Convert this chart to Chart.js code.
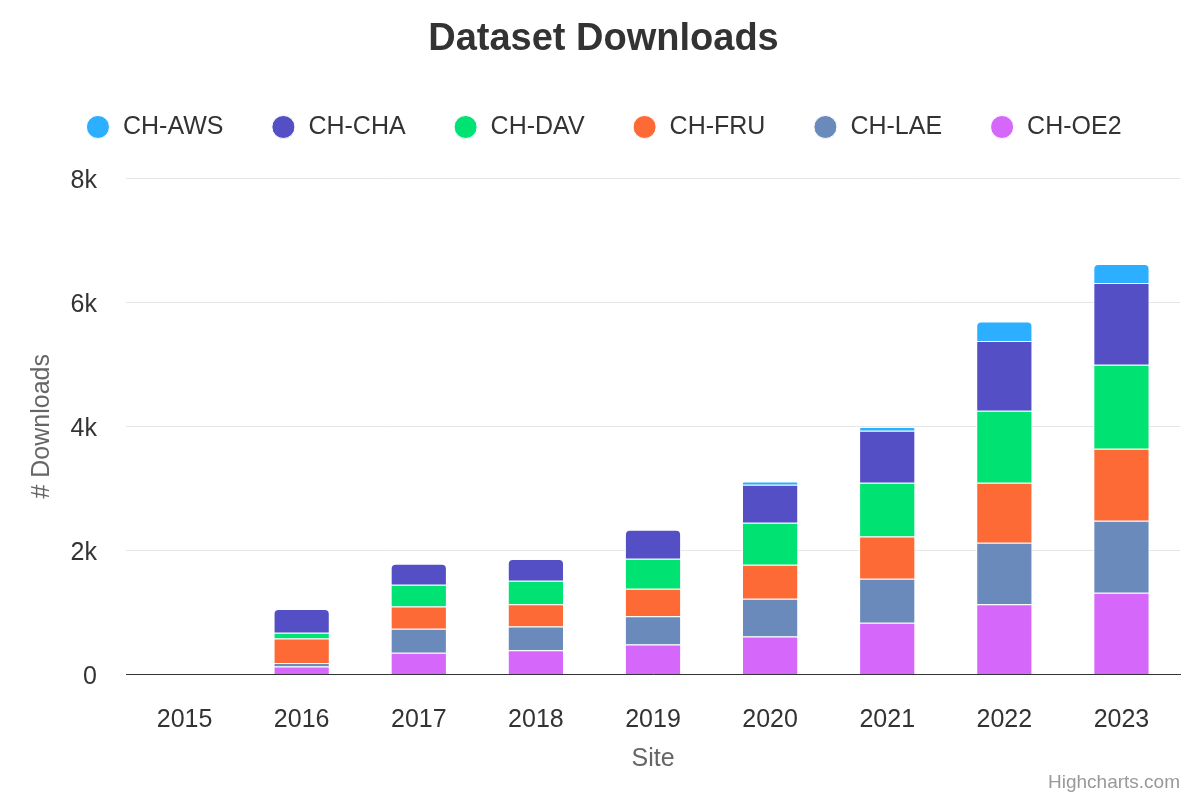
<!DOCTYPE html>
<html>
<head>
<meta charset="utf-8">
<script src="https://cdn.jsdelivr.net/npm/chart.js@4/dist/chart.umd.min.js"></script>
<style>
  html, body { margin: 0; padding: 0; background: #ffffff; }
</style>
</head>
<body>
<canvas id="c" width="1200" height="800"></canvas>
<script>
const years = ['2015', '2016', '2017', '2018', '2019', '2020', '2021', '2022', '2023'];
const chOE2 = [0, 130, 354, 394, 483, 612, 837, 1132, 1320];
const chLAE = [0, 55, 386, 379, 455, 611, 708, 993, 1159];
const chFRU = [0, 395, 359, 362, 446, 548, 681, 966, 1159];
const chDAV = [0, 95, 350, 378, 483, 676, 865, 1158, 1352];
const chCHA = [0, 380, 338, 349, 467, 611, 837, 1127, 1320];
const chAWS = [0, 0, 0, 0, 0, 53, 59, 311, 306];
const yTicks = [0, 2000, 4000, 6000, 8000];

const FONT = '"Liberation Sans", Arial, Helvetica, sans-serif';

// bottom -> top stack order
const series = [
  { label: 'CH-OE2', data: chOE2, color: '#d568fb' },
  { label: 'CH-LAE', data: chLAE, color: '#6b8abc' },
  { label: 'CH-FRU', data: chFRU, color: '#fe6a35' },
  { label: 'CH-DAV', data: chDAV, color: '#00e272' },
  { label: 'CH-CHA', data: chCHA, color: '#544fc5' },
  { label: 'CH-AWS', data: chAWS, color: '#2caffe' }
];

function topIndex(i) {
  let top = -1;
  series.forEach((s, k) => { if (s.data[i] > 0) top = k; });
  return top;
}

const datasets = series.map((s, k) => ({
  label: s.label,
  data: s.data,
  backgroundColor: s.color,
  borderColor: '#ffffff',
  borderWidth: 1,
  borderSkipped: 'start',
  borderRadius: (ctx) => {
    const i = ctx.dataIndex;
    return topIndex(i) === k
      ? { topLeft: 5, topRight: 5, bottomLeft: 0, bottomRight: 0 }
      : { topLeft: 0, topRight: 0, bottomLeft: 0, bottomRight: 0 };
  },
  categoryPercentage: 0.6,
  barPercentage: 0.8,
  pointStyle: 'circle'
}));

const legendHeight = {
  id: 'legendHeight',
  beforeInit(chart) {
    const origFit = chart.legend.fit;
    chart.legend.fit = function () {
      origFit.bind(chart.legend)();
      this.height = 111;
    };
  }
};

new Chart(document.getElementById('c'), {
  type: 'bar',
  data: { labels: years, datasets: datasets },
  plugins: [legendHeight],
  options: {
    responsive: false,
    animation: false,
    layout: { padding: { top: 8, left: 27, right: 20, bottom: 5.6 } },
    plugins: {
      title: {
        display: true,
        text: 'Dataset Downloads',
        color: '#333333',
        font: { family: FONT, size: 38, weight: 'bold' },
        padding: { top: 9.2, bottom: 4.2 }
      },
      subtitle: {
        display: true,
        text: 'Highcharts.com',
        position: 'bottom',
        align: 'end',
        color: '#999999',
        font: { family: FONT, size: 19 },
        padding: { top: 0, bottom: 0 }
      },
      legend: {
        display: true,
        position: 'top',
        reverse: true,
        labels: {
          usePointStyle: true,
          boxWidth: 29,
          boxHeight: 16.3,
          padding: 47.5,
          color: '#333333',
          font: { family: FONT, size: 25 }
        }
      },
      tooltip: { enabled: false }
    },
    scales: {
      x: {
        stacked: true,
        z: 1,
        grid: { display: false, drawTicks: false },
        border: { display: true, color: '#333333', width: 1 },
        ticks: { color: '#333333', font: { family: FONT, size: 25 }, padding: 31, maxRotation: 0 },
        title: { display: true, text: 'Site', color: '#666666', font: { family: FONT, size: 25 }, padding: { top: -22, bottom: -3 } }
      },
      y: {
        stacked: true,
        min: yTicks[0],
        max: yTicks[yTicks.length - 1],
        grid: { color: '#e6e6e6', lineWidth: 1, drawTicks: false },
        border: { display: false },
        ticks: {
          stepSize: yTicks[1] - yTicks[0],
          color: '#333333',
          font: { family: FONT, size: 25 },
          padding: 29,
          labelOffset: 3,
          callback: (v) => v === 0 ? '0' : (v / 1000) + 'k'
        },
        title: { display: true, text: '# Downloads', color: '#666666', font: { family: FONT, size: 25 }, padding: { top: 0, bottom: -15.4 } }
      }
    }
  }
});
</script>
</body>
</html>
